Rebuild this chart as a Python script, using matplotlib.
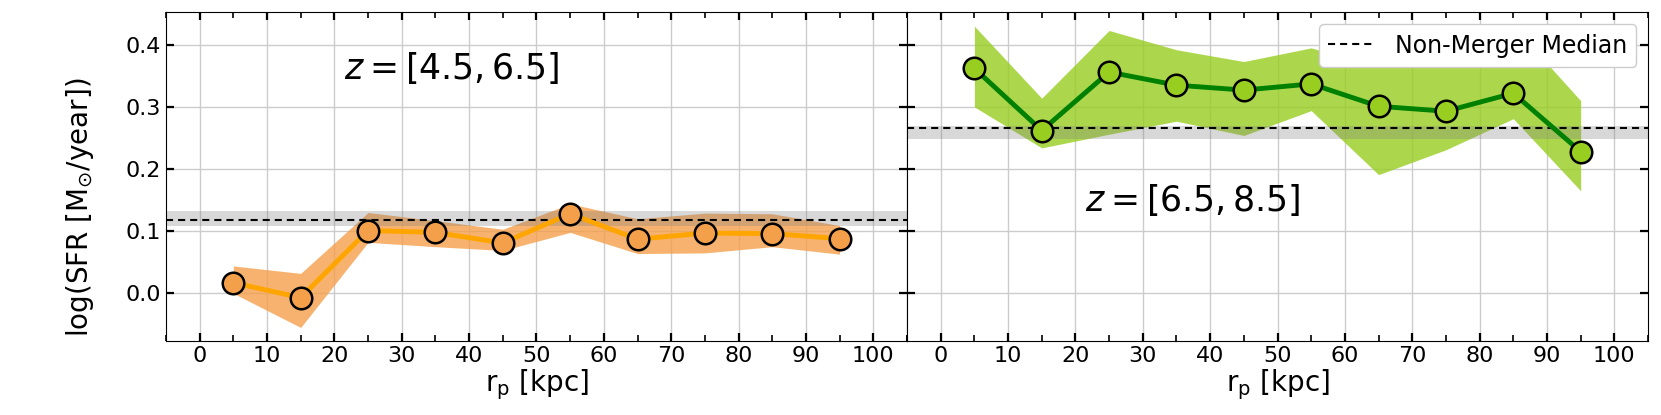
import matplotlib
matplotlib.use('Agg')
import matplotlib.pyplot as plt
from matplotlib.ticker import MultipleLocator

# separation bins [kpc]
rp = [5, 15, 25, 35, 45, 55, 65, 75, 85, 95]

# z = [4.5, 6.5]
sfr_lo = [0.017, -0.007, 0.101, 0.098, 0.081, 0.128, 0.087, 0.097, 0.096, 0.088]
sfr_lo_up = [0.044, 0.032, 0.130, 0.117, 0.103, 0.144, 0.120, 0.129, 0.128, 0.109]
sfr_lo_dn = [0.000, -0.055, 0.082, 0.075, 0.069, 0.098, 0.064, 0.065, 0.075, 0.063]
med_lo = 0.1174
med_lo_band = [0.109, 0.133]

# z = [6.5, 8.5]
sfr_hi = [0.362, 0.262, 0.356, 0.335, 0.327, 0.337, 0.301, 0.293, 0.322, 0.228]
sfr_hi_up = [0.430, 0.314, 0.423, 0.392, 0.373, 0.395, 0.364, 0.400, 0.430, 0.310]
sfr_hi_dn = [0.300, 0.234, 0.256, 0.277, 0.254, 0.294, 0.191, 0.231, 0.281, 0.165]
med_hi = 0.2655
med_hi_band = [0.249, 0.270]

labels = [r'$z = [4.5, 6.5]$', r'$z = [6.5, 8.5]$']
label_y = [0.83, 0.43]

fig, axes = plt.subplots(1, 2, figsize=(16.61, 4.15), dpi=100, sharey=True)
fig.subplots_adjust(left=0.0999, right=0.9922, bottom=0.178, top=0.970, wspace=0)

panels = [
    (sfr_lo, sfr_lo_up, sfr_lo_dn, med_lo, med_lo_band, 'orange', '#F49F4A'),
    (sfr_hi, sfr_hi_up, sfr_hi_dn, med_hi, med_hi_band, 'green', '#98CE20'),
]

for i, (ax, (y, up, dn, med, band, lc, fc)) in enumerate(zip(axes, panels)):
    ax.fill_between(rp, dn, up, color=fc, alpha=0.8, lw=0, zorder=1)
    ax.axhspan(band[0], band[1], color='gray', alpha=0.3, lw=0, zorder=2)
    ax.axhline(med, color='black', ls='--', dashes=(3.4, 2.4), lw=1.5, zorder=3,
               label='Non-Merger Median')
    ax.plot(rp, y, color=lc, lw=3.5, zorder=4)
    ax.plot(rp, y, 'o', ms=15.5, mfc=fc, mec='black', mew=1.8, zorder=5)

    ax.text(0.24, label_y[i], labels[i], transform=ax.transAxes,
            fontsize=25, ha='left', va='center')

    ax.set_xlim(-5, 105)
    ax.set_ylim(-0.077, 0.452)
    ax.xaxis.set_major_locator(MultipleLocator(10))
    ax.xaxis.set_minor_locator(MultipleLocator(5))
    ax.yaxis.set_major_locator(MultipleLocator(0.1))
    ax.tick_params(which='both', direction='in', top=True, right=True, labelsize=16)
    ax.tick_params(which='major', length=6, width=1.6)
    ax.tick_params(which='minor', axis='x', length=4, width=1.2)
    ax.tick_params(which='minor', axis='y', left=False, right=False)
    ax.grid(True, color='#cccccc', lw=1)
    ax.set_axisbelow(True)
    ax.set_xlabel(r'r$_{\rm p}$ [kpc]', fontsize=20, labelpad=1)

fig.text(0.048, 0.5, r'log(SFR [M$_{\odot}$/year])', fontsize=20,
         rotation=90, ha='center', va='center')
axes[1].tick_params(labelleft=False)
axes[1].legend(loc='upper right', fontsize=17, framealpha=1)

plt.savefig('out.png', dpi=100)
